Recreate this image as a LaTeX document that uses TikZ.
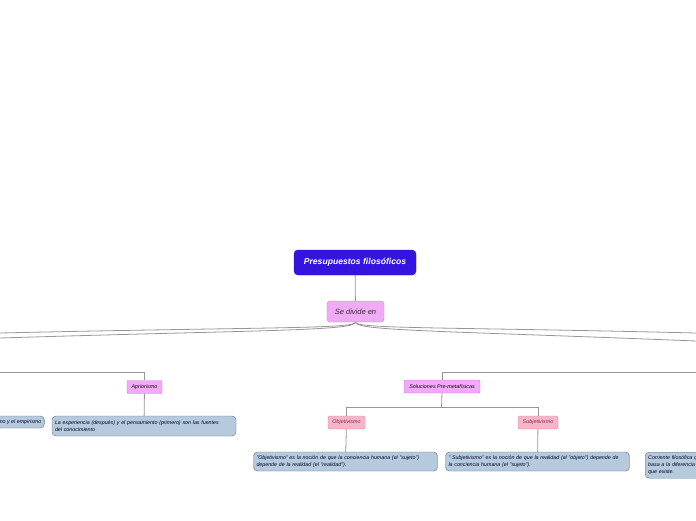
\documentclass[tikz,border=0pt]{standalone}
\usepackage{fontspec}
\setmainfont{Liberation Sans}
\usetikzlibrary{positioning}
\definecolor{rootblue}{RGB}{52,20,222}
\definecolor{lilac}{RGB}{240,170,246}
\definecolor{lilacdk}{RGB}{206,130,214}
\definecolor{rosy}{RGB}{245,182,202}
\definecolor{rosydk}{RGB}{228,130,160}
\definecolor{rosytxt}{RGB}{150,40,80}
\definecolor{steel}{RGB}{182,202,222}
\definecolor{steeldk}{RGB}{96,110,124}
\definecolor{linegray}{RGB}{150,150,150}
\tikzset{
  rootbox/.style={draw=rootblue!80!black, fill=rootblue, rounded corners=4pt, text=white,
    minimum width=122pt, minimum height=25pt, font=\fontsize{8.6}{9}\selectfont\bfseries\itshape},
  dividebox/.style={draw=lilacdk, fill=lilac, rounded corners=3pt, text=black!80,
    minimum width=57pt, minimum height=21pt, font=\fontsize{7.5}{8}\selectfont\itshape},
  kindbox/.style={draw=lilacdk, fill=lilac, rounded corners=1pt, text=black!75!violet,
    minimum height=13pt, inner xsep=1.5pt, font=\fontsize{5.4}{6}\selectfont\itshape},
  sidebox/.style={draw=rosydk, fill=rosy, rounded corners=1.5pt, text=rosytxt,
    minimum height=13pt, inner xsep=1.5pt, font=\fontsize{5.4}{6}\selectfont\itshape},
  notebox/.style={draw=steeldk, fill=steel, rounded corners=4pt, text=black!85!blue,
    align=left, inner xsep=3pt, font=\fontsize{5.3}{7}\selectfont\itshape},
  link/.style={draw=linegray, line width=0.8pt}
}
\begin{document}
\begin{tikzpicture}[x=1pt,y=-1pt]
  \useasboundingbox (0,0) rectangle (696,520);
  % top of the map
  \node[rootbox] (root) at (355,262.5) {Presupuestos filosóficos};
  \node[dividebox] (divide) at (355.5,311.5) {Se divide en};
  \draw[link] (root) -- (divide);

  % branches that leave the page
  \coordinate (lftA) at (0,333);
  \coordinate (lftB) at (0,338);
  \coordinate (rgtA) at (696,333);
  \coordinate (rgtB) at (696,341);
  \draw[link] (divide.south) .. controls (355,329) and (260,327) .. (lftA);
  \draw[link] (divide.south) .. controls (355,331) and (260,330) .. (lftB);
  \draw[link] (divide.south) .. controls (355,329) and (450,327) .. (rgtA);
  \draw[link] (divide.south) .. controls (355,331) and (450,331) .. (rgtB);

  % Apriorismo
  \coordinate (aprin) at (0,372.5);
  \node[kindbox, minimum width=35pt] (aprior) at (144.5,387) {Apriorismo};
  \node[notebox, text width=178pt, minimum height=20pt] (aprtxt) at (144,426)
    {La experiencia (después) y el pensamiento (primero) son las fuentes\\del conocimiento};
  \node[notebox, anchor=east, minimum height=12pt] (empir) at (44.5,422)
    {racionalismo y el empirismo};
  \draw[link] (aprin) -| (aprior.north);
  \draw[link] (aprior) -- (aprtxt);

  % Soluciones Pre-metafisicas
  \coordinate (solin) at (696,372.5);
  \node[kindbox, minimum width=76pt] (solu) at (442,386.5) {Soluciones Pre-metafísicas};
  \coordinate (solfork) at (441.5,407.5);
  \node[sidebox, minimum width=37pt] (objet) at (346.5,422.5) {Objetivismo};
  \node[sidebox, minimum width=40pt] (subje) at (538,422.5) {Subjetivismo};
  \draw[link] (solin) -| (solu.north);
  \draw[link] (solu.south) -- (solfork);
  \draw[link] (solfork) -| (objet.north);
  \draw[link] (solfork) -| (subje.north);

  \node[notebox, text width=178pt, minimum height=19pt] (objtxt) at (345.5,461.5)
    {"Objetivismo" es la noción de que la conciencia humana  (el "sujeto")\\depende de la realidad (el "realidad").};
  \node[notebox, text width=178pt, minimum height=19pt] (subtxt) at (537.5,461.5)
    {" Subjetivismo" es la noción de que la realidad (el "objeto") depende de\\la conciencia humana (el "sujeto").};
  \draw[link] (objet) -- (objtxt);
  \draw[link] (subje) -- (subtxt);

  \node[notebox, anchor=north west, text width=80pt, minimum height=26pt] (corri) at (645,452)
    {Corriente filosófica que se\\basa a la diferencia entre lo\\que existe.};
\end{tikzpicture}
\end{document}
